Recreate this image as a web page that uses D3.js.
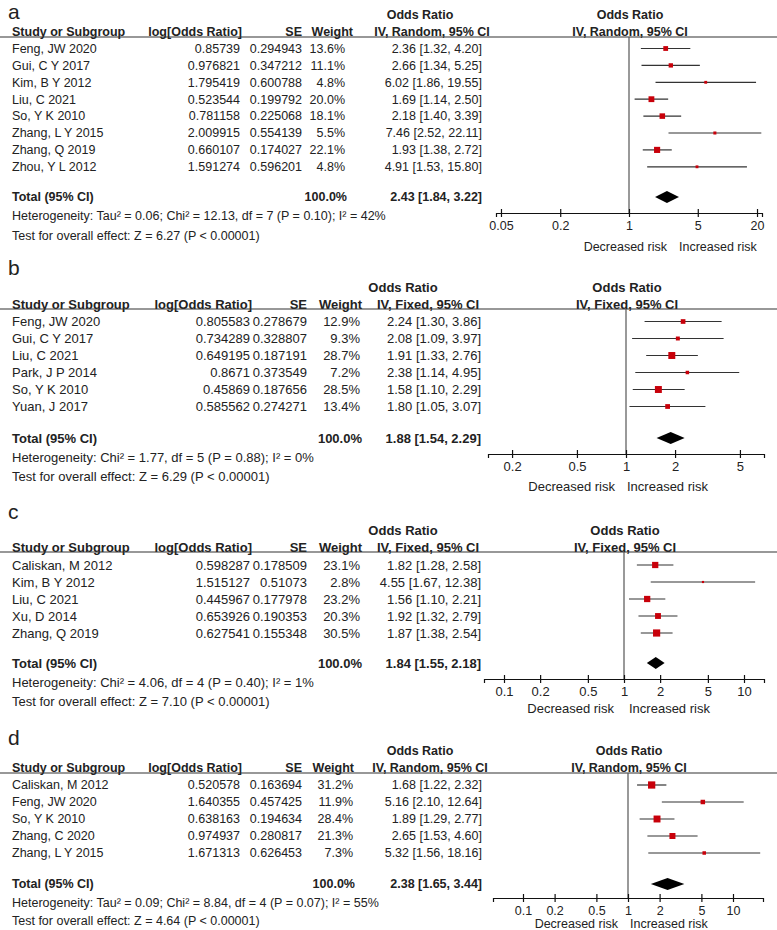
<!DOCTYPE html>
<html><head><meta charset="utf-8">
<script src="https://cdn.jsdelivr.net/npm/d3@7"></script>
<style>
body{margin:0;background:#fff}
svg{display:block}
text{font-family:"Liberation Sans",Arial,sans-serif;fill:#222}
</style>
</head><body>
<svg id="chart" width="777" height="930"></svg>
<script>
// ---------- DATA ----------
// Panel a
const studiesA = ["Feng, JW 2020","Gui, C Y 2017","Kim, B Y 2012","Liu, C 2021","So, Y K 2010","Zhang, L Y 2015","Zhang, Q 2019","Zhou, Y L 2012"];
const logOrA = ["0.85739","0.976821","1.795419","0.523544","0.781158","2.009915","0.660107","1.591274"];
const seA = ["0.294943","0.347212","0.600788","0.199792","0.225068","0.554139","0.174027","0.596201"];
const weightA = [13.6,11.1,4.8,20.0,18.1,5.5,22.1,4.8];
const orA = [2.36,2.66,6.02,1.69,2.18,7.46,1.93,4.91];
const ciLowA = [1.32,1.34,1.86,1.14,1.40,2.52,1.38,1.53];
const ciHighA = [4.20,5.25,19.55,2.50,3.39,22.11,2.72,15.80];
const totalA = [2.43,1.84,3.22];
const hetA = "Heterogeneity: Tau² = 0.06; Chi² = 12.13, df = 7 (P = 0.10); I² = 42%";
const testA = "Test for overall effect: Z = 6.27 (P < 0.00001)";
const ticksA = [0.05,0.2,1,5,20];

// Panel b
const studiesB = ["Feng, JW 2020","Gui, C Y 2017","Liu, C 2021","Park, J P 2014","So, Y K 2010","Yuan, J 2017"];
const logOrB = ["0.805583","0.734289","0.649195","0.8671","0.45869","0.585562"];
const seB = ["0.278679","0.328807","0.187191","0.373549","0.187656","0.274271"];
const weightB = [12.9,9.3,28.7,7.2,28.5,13.4];
const orB = [2.24,2.08,1.91,2.38,1.58,1.80];
const ciLowB = [1.30,1.09,1.33,1.14,1.10,1.05];
const ciHighB = [3.86,3.97,2.76,4.95,2.29,3.07];
const totalB = [1.88,1.54,2.29];
const hetB = "Heterogeneity: Chi² = 1.77, df = 5 (P = 0.88); I² = 0%";
const testB = "Test for overall effect: Z = 6.29 (P < 0.00001)";
const ticksB = [0.2,0.5,1,2,5];

// Panel c
const studiesC = ["Caliskan, M 2012","Kim, B Y 2012","Liu, C 2021","Xu, D 2014","Zhang, Q 2019"];
const logOrC = ["0.598287","1.515127","0.445967","0.653926","0.627541"];
const seC = ["0.178509","0.51073","0.177978","0.190353","0.155348"];
const weightC = [23.1,2.8,23.2,20.3,30.5];
const orC = [1.82,4.55,1.56,1.92,1.87];
const ciLowC = [1.28,1.67,1.10,1.32,1.38];
const ciHighC = [2.58,12.38,2.21,2.79,2.54];
const totalC = [1.84,1.55,2.18];
const hetC = "Heterogeneity: Chi² = 4.06, df = 4 (P = 0.40); I² = 1%";
const testC = "Test for overall effect: Z = 7.10 (P < 0.00001)";
const ticksC = [0.1,0.2,0.5,1,2,5,10];

// Panel d
const studiesD = ["Caliskan, M 2012","Feng, JW 2020","So, Y K 2010","Zhang, C 2020","Zhang, L Y 2015"];
const logOrD = ["0.520578","1.640355","0.638163","0.974937","1.671313"];
const seD = ["0.163694","0.457425","0.194634","0.280817","0.626453"];
const weightD = [31.2,11.9,28.4,21.3,7.3];
const orD = [1.68,5.16,1.89,2.65,5.32];
const ciLowD = [1.22,2.10,1.29,1.53,1.56];
const ciHighD = [2.32,12.64,2.77,4.60,18.16];
const totalD = [2.38,1.65,3.44];
const hetD = "Heterogeneity: Tau² = 0.09; Chi² = 8.84, df = 4 (P = 0.07); I² = 55%";
const testD = "Test for overall effect: Z = 4.64 (P < 0.00001)";
const ticksD = [0.1,0.2,0.5,1,2,5,10];

const methodRandom = "IV, Random, 95% CI";
const methodFixed = "IV, Fixed, 95% CI";
const headerLabels = ["Study or Subgroup","log[Odds Ratio]","SE","Weight","Odds Ratio"];
const sideLabels = ["Decreased risk","Increased risk"];

// ---------- LAYOUT ----------
const panels = [
  {letter:"a", studies:studiesA, logOr:logOrA, se:seA, weight:weightA, or:orA, lo:ciLowA, hi:ciHighA, total:totalA, het:hetA, test:testA, ticks:ticksA, method:methodRandom,
   letterY:12, orHeadY:15, methodY:32, lineY:37, row0:48.5, pitch:16.9, totalY:197, hetY:216, testY:236, axisY:213,
   fs:12.5, cLog:240, cLogH:242, cSe:302, cW:345, cWH:353, cOr:482, cOrHead:420, cMethod:432,
   xc:629, perDec:98.4, half:133, decEnd:667, incStart:679, sideY:247},
  {letter:"b", studies:studiesB, logOr:logOrB, se:seB, weight:weightB, or:orB, lo:ciLowB, hi:ciHighB, total:totalB, het:hetB, test:testB, ticks:ticksB, method:methodFixed,
   letterY:268, orHeadY:287, methodY:304, lineY:309, row0:321.5, pitch:17, totalY:438, hetY:457, testY:476, axisY:454,
   fs:13, cLog:250, cLogH:252, cSe:307, cW:360, cWH:362, cOr:481, cOrHead:403, cMethod:428,
   xc:626, perDec:163, half:138, decEnd:615, incStart:627, sideY:486},
  {letter:"c", studies:studiesC, logOr:logOrC, se:seC, weight:weightC, or:orC, lo:ciLowC, hi:ciHighC, total:totalC, het:hetC, test:testC, ticks:ticksC, method:methodFixed,
   letterY:512, orHeadY:530, methodY:547, lineY:552, row0:565, pitch:17, totalY:663, hetY:682, testY:701, axisY:679,
   fs:13, cLog:250, cLogH:252, cSe:307, cW:360, cWH:362, cOr:481, cOrHead:403, cMethod:428,
   xc:624, perDec:120, half:140, decEnd:614, incStart:629, sideY:708},
  {letter:"d", studies:studiesD, logOr:logOrD, se:seD, weight:weightD, or:orD, lo:ciLowD, hi:ciHighD, total:totalD, het:hetD, test:testD, ticks:ticksD, method:methodRandom,
   letterY:738, orHeadY:751, methodY:768, lineY:773, row0:785, pitch:17, totalY:884, hetY:903, testY:921, axisY:898,
   fs:12.5, cLog:240, cLogH:242, cSe:302, cW:353, cWH:354, cOr:482, cOrHead:420, cMethod:430,
   xc:628, perDec:105, half:135, decEnd:618, incStart:630, sideY:924}
];

const svg = d3.select("#chart");
const red = "#c8000a";

panels.forEach(p => {
  const g = svg.append("g");
  const txt = (x, y, s, opts={}) => g.append("text")
      .attr("x", x).attr("y", y).attr("dy", "0.35em")
      .attr("font-size", opts.fs || p.fs)
      .attr("font-weight", opts.bold ? "bold" : null)
      .attr("text-anchor", opts.anchor || "start")
      .text(s);

  // panel letter
  txt(8, p.letterY, p.letter, {fs:21});

  // headers
  txt(p.cOrHead, p.orHeadY, headerLabels[4], {bold:true, anchor:"middle"});
  txt(p.xc + 1, p.orHeadY, headerLabels[4], {bold:true, anchor:"middle"});
  txt(12, p.methodY, headerLabels[0], {bold:true});
  txt(p.cLogH, p.methodY, headerLabels[1], {bold:true, anchor:"end"});
  txt(p.cSe, p.methodY, headerLabels[2], {bold:true, anchor:"end"});
  txt(p.cWH, p.methodY, headerLabels[3], {bold:true, anchor:"end"});
  txt(p.cMethod, p.methodY, p.method, {bold:true, anchor:"middle"});
  txt(p.xc + 1, p.methodY, p.method, {bold:true, anchor:"middle"});
  g.append("line").attr("x1", 0).attr("x2", 777).attr("y1", p.lineY).attr("y2", p.lineY)
    .attr("stroke", "#333").attr("stroke-width", 1.2);

  // scales
  const m = Math.pow(10, p.half / p.perDec);
  const x = d3.scaleLog().domain([1/m, m]).range([p.xc - p.half, p.xc + p.half]);
  const y = d3.scaleLinear().domain([0, 1]).range([p.row0, p.row0 + p.pitch]);

  // rows
  p.studies.forEach((s, i) => {
    const yy = y(i);
    txt(12, yy, s);
    txt(p.cLog, yy, p.logOr[i], {anchor:"end"});
    txt(p.cSe, yy, p.se[i], {anchor:"end"});
    txt(p.cW, yy, d3.format(".1f")(p.weight[i]) + "%", {anchor:"end"});
    txt(p.cOr, yy, `${d3.format(".2f")(p.or[i])} [${d3.format(".2f")(p.lo[i])}, ${d3.format(".2f")(p.hi[i])}]`, {anchor:"end"});
  });

  // totals
  txt(12, p.totalY, "Total (95% CI)", {bold:true});
  txt(p.cW + 2, p.totalY, "100.0%", {bold:true, anchor:"end"});
  txt(p.cOr, p.totalY, `${d3.format(".2f")(p.total[0])} [${d3.format(".2f")(p.total[1])}, ${d3.format(".2f")(p.total[2])}]`, {bold:true, anchor:"end"});
  txt(12, p.hetY, p.het);
  txt(12, p.testY, p.test);

  // vertical reference line
  g.append("line").attr("x1", x(1)).attr("x2", x(1)).attr("y1", p.lineY).attr("y2", p.axisY)
    .attr("stroke", "#555").attr("stroke-width", 1.2);

  // CI lines
  g.selectAll(".ci").data(p.studies).enter().append("line")
    .attr("x1", (d, i) => x(p.lo[i])).attr("x2", (d, i) => x(p.hi[i]))
    .attr("y1", (d, i) => y(i)).attr("y2", (d, i) => y(i))
    .attr("stroke", "#333").attr("stroke-width", 1.2);

  // squares
  const side = w => 1.3 * Math.sqrt(w);
  g.selectAll(".sq").data(p.studies).enter().append("rect")
    .attr("x", (d, i) => x(p.or[i]) - side(p.weight[i]) / 2)
    .attr("y", (d, i) => y(i) - side(p.weight[i]) / 2)
    .attr("width", (d, i) => side(p.weight[i]))
    .attr("height", (d, i) => side(p.weight[i]))
    .attr("fill", red);

  // diamond
  const dy = 6;
  g.append("path")
    .attr("d", `M${x(p.total[1])},${p.totalY}L${x(p.total[0])},${p.totalY - dy}L${x(p.total[2])},${p.totalY}L${x(p.total[0])},${p.totalY + dy}Z`)
    .attr("fill", "#000");

  // axis
  const ax = g.append("g").attr("transform", `translate(0,${p.axisY})`)
    .call(d3.axisBottom(x).tickValues(p.ticks).tickFormat(d => String(d)).tickSizeOuter(0).tickSize(4).tickPadding(4));
  ax.select(".domain").attr("stroke", "#111").attr("stroke-width", 1.2);
  ax.selectAll(".tick line").attr("y1", -4).attr("y2", 4).attr("stroke", "#111").attr("stroke-width", 1.2);
  ax.selectAll(".tick text").attr("font-size", p.fs).attr("fill", "#222")
    .attr("font-family", '"Liberation Sans",Arial,sans-serif');

  // side labels
  txt(p.decEnd, p.sideY, sideLabels[0], {anchor:"end"});
  txt(p.incStart, p.sideY, sideLabels[1]);
});
</script>
</body></html>
